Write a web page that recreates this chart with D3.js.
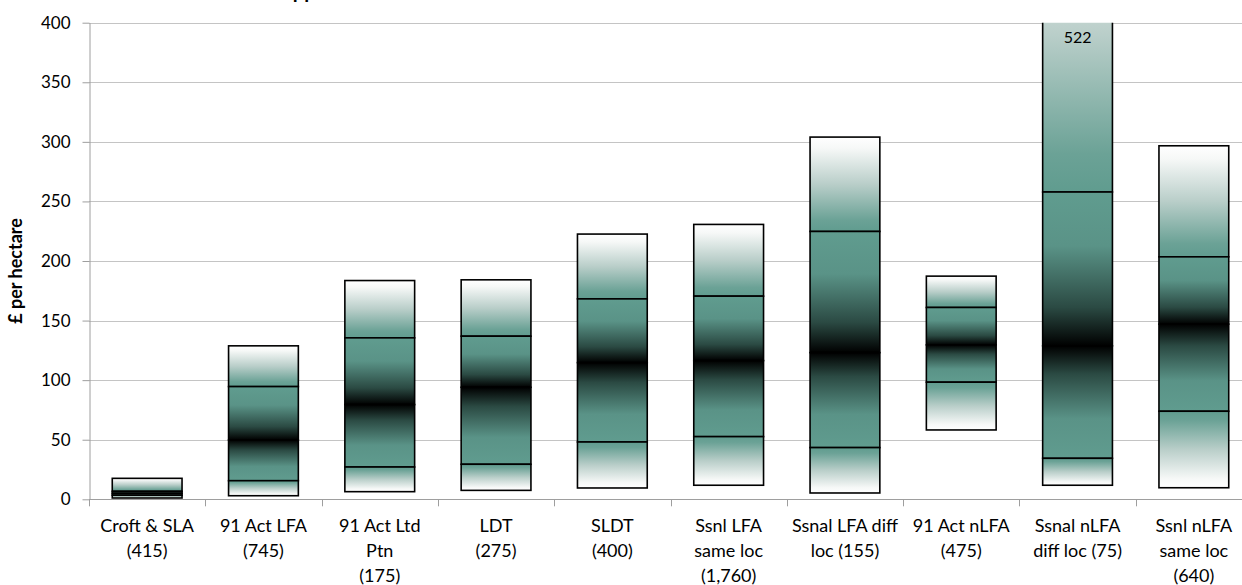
<!DOCTYPE html>
<html>
<head>
<meta charset="utf-8">
<script src="https://cdn.jsdelivr.net/npm/d3@7"></script>
<style>
  body { margin: 0; background: #fff; }
  svg { display: block; font-family: Lato, "Open Sans", sans-serif; }
</style>
</head>
<body>
<script>
let width = 1242,
    height = 585;

// data
let categories = ["Croft & SLA", "91 Act LFA", "91 Act Ltd Ptn", "LDT", "SLDT",
                  "Ssnl LFA same loc", "Ssnal LFA diff loc", "91 Act nLFA",
                  "Ssnal nLFA diff loc", "Ssnl nLFA same loc"];
let tickLines = [["Croft & SLA", "(415)"], ["91 Act LFA", "(745)"], ["91 Act Ltd", "Ptn", "(175)"],
                 ["LDT", "(275)"], ["SLDT", "(400)"], ["Ssnl LFA", "same loc", "(1,760)"],
                 ["Ssnal LFA diff", "loc (155)"], ["91 Act nLFA", "(475)"],
                 ["Ssnal nLFA", "diff loc (75)"], ["Ssnl nLFA", "same loc", "(640)"]];
let mins    = [1.1, 3, 6.4, 7.5, 9.5, 11.8, 5.3, 58.2, 11.8, 9.7];
let q1      = [3.4, 15.6, 27.1, 29.4, 48.1, 52.6, 43.4, 98.3, 34.4, 73.9];
let medians = [5, 49.8, 79.5, 94, 114.7, 116.4, 123.1, 129.6, 128.8, 147];
let q3      = [6.7, 94.6, 135.5, 136.9, 168.2, 170.5, 224.8, 161, 257.9, 203.5];
let maxs    = [17.6, 128.8, 183.6, 184.2, 222.6, 230.7, 304, 187.3, 522, 296.7];
let yTicks  = [0, 50, 100, 150, 200, 250, 300, 350, 400];

let teal = "#609c8f";

let svg = d3.select("body")
            .append("svg")
            .attr("width", width)
            .attr("height", height);

let xScale = d3.scaleBand()
               .domain(categories)
               .range([89, 1252])
               .paddingInner(0.4)
               .paddingOuter(0.2);

let yScale = d3.scaleLinear()
               .domain([0, 400])
               .range([499.3, 22.7]);

// gradients: one per segment kind
let defs = svg.append("defs");
let grads = {
  top:    [[0, "#ffffff"], [0.12, "#f6f8f7"], [0.5, "#b9cec9"], [0.88, "#6ba296"], [1, teal]],
  upper:  [[0, teal], [0.35, "#5a9387"], [0.75, "#2b4a43"], [1, "#000000"]],
  lower:  [[0, "#000000"], [0.25, "#2b4a43"], [0.65, "#5a9387"], [1, teal]],
  bottom: [[0, teal], [0.12, "#6ba296"], [0.5, "#b9cec9"], [0.88, "#f6f8f7"], [1, "#ffffff"]]
};
Object.keys(grads).forEach(function(k) {
  let g = defs.append("linearGradient")
              .attr("id", "g-" + k)
              .attr("x1", 0).attr("y1", 0).attr("x2", 0).attr("y2", 1);
  grads[k].forEach(function(s) {
    g.append("stop").attr("offset", s[0]).attr("stop-color", s[1]);
  });
});
defs.append("clipPath").attr("id", "plot")
    .append("rect")
    .attr("x", 89).attr("y", yScale(400))
    .attr("width", 1252 - 89).attr("height", yScale(0) - yScale(400) + 2);

// cut-off title above the plot
svg.append("text")
   .attr("x", 292).attr("y", -2)
   .attr("text-anchor", "middle")
   .style("font-size", "20px")
   .style("font-weight", "bold")
   .text("Rent applied");

// gridlines
svg.append("g")
   .selectAll("line")
   .data(yTicks.filter(function(d) { return d > 0; }))
   .enter()
   .append("line")
   .attr("x1", 89).attr("x2", 1252)
   .attr("y1", function(d) { return Math.round(yScale(d)) + 0.5; })
   .attr("y2", function(d) { return Math.round(yScale(d)) + 0.5; })
   .attr("stroke", "#c4c4c4")
   .attr("stroke-width", 1);

// y axis
let yAxis = svg.append("g")
   .attr("transform", "translate(89.5,0)")
   .call(d3.axisLeft(yScale).tickValues(yTicks).tickSize(7).tickPadding(12).tickSizeOuter(0));
yAxis.select(".domain").attr("stroke", "#9e9e9e");
yAxis.selectAll(".tick line").attr("stroke", "#9e9e9e");
yAxis.selectAll("text")
     .style("font-size", "17px")
     .style("font-family", "Lato, 'Open Sans', sans-serif")
     .attr("fill", "#000");

svg.append("text")
   .attr("transform", "translate(22," + 271 + ") rotate(-90)")
   .attr("text-anchor", "middle")
   .style("font-size", "18px")
   .style("font-weight", "bold")
   .text("£ per hectare");

// x axis line and ticks at band boundaries
let xAxisG = svg.append("g");
xAxisG.append("line")
      .attr("x1", 89).attr("x2", 1252)
      .attr("y1", Math.round(yScale(0)) + 0.5).attr("y2", Math.round(yScale(0)) + 0.5)
      .attr("stroke", "#9e9e9e");
xAxisG.selectAll(".xt")
      .data(d3.range(categories.length + 1))
      .enter()
      .append("line")
      .attr("x1", function(i) { return Math.round(89 + i * xScale.step()) + 0.5; })
      .attr("x2", function(i) { return Math.round(89 + i * xScale.step()) + 0.5; })
      .attr("y1", yScale(0)).attr("y2", yScale(0) + 7)
      .attr("stroke", "#9e9e9e");

// category labels
let labels = svg.append("g")
   .selectAll("text")
   .data(categories)
   .enter()
   .append("text")
   .attr("x", function(d) { return xScale(d) + xScale.bandwidth() / 2; })
   .attr("y", 532)
   .attr("text-anchor", "middle")
   .style("font-size", "18px");
labels.selectAll("tspan")
   .data(function(d, i) { return tickLines[i]; })
   .enter()
   .append("tspan")
   .attr("x", function() { return d3.select(this.parentNode).attr("x"); })
   .attr("dy", function(d, i) { return i === 0 ? 0 : 25; })
   .text(function(d) { return d; });

// boxes as stacked segments
let segs = [];
categories.forEach(function(c, i) {
  segs.push({c: c, lo: q3[i], hi: maxs[i], kind: "top"});
  segs.push({c: c, lo: medians[i], hi: q3[i], kind: "upper"});
  segs.push({c: c, lo: q1[i], hi: medians[i], kind: "lower"});
  segs.push({c: c, lo: mins[i], hi: q1[i], kind: "bottom"});
});

svg.append("g")
   .attr("clip-path", "url(#plot)")
   .selectAll("rect")
   .data(segs)
   .enter()
   .append("rect")
   .attr("x", function(d) { return xScale(d.c); })
   .attr("y", function(d) { return yScale(d.hi); })
   .attr("width", xScale.bandwidth())
   .attr("height", function(d) { return yScale(d.lo) - yScale(d.hi); })
   .attr("fill", function(d) { return "url(#g-" + d.kind + ")"; })
   .attr("stroke", "#000")
   .attr("stroke-width", 1.6);

// label for the clipped maximum
let big = maxs.findIndex(function(v) { return v > 400; });
svg.append("text")
   .attr("x", xScale(categories[big]) + xScale.bandwidth() / 2)
   .attr("y", 43)
   .attr("text-anchor", "middle")
   .style("font-size", "16px")
   .text(maxs[big]);
</script>
</body>
</html>
